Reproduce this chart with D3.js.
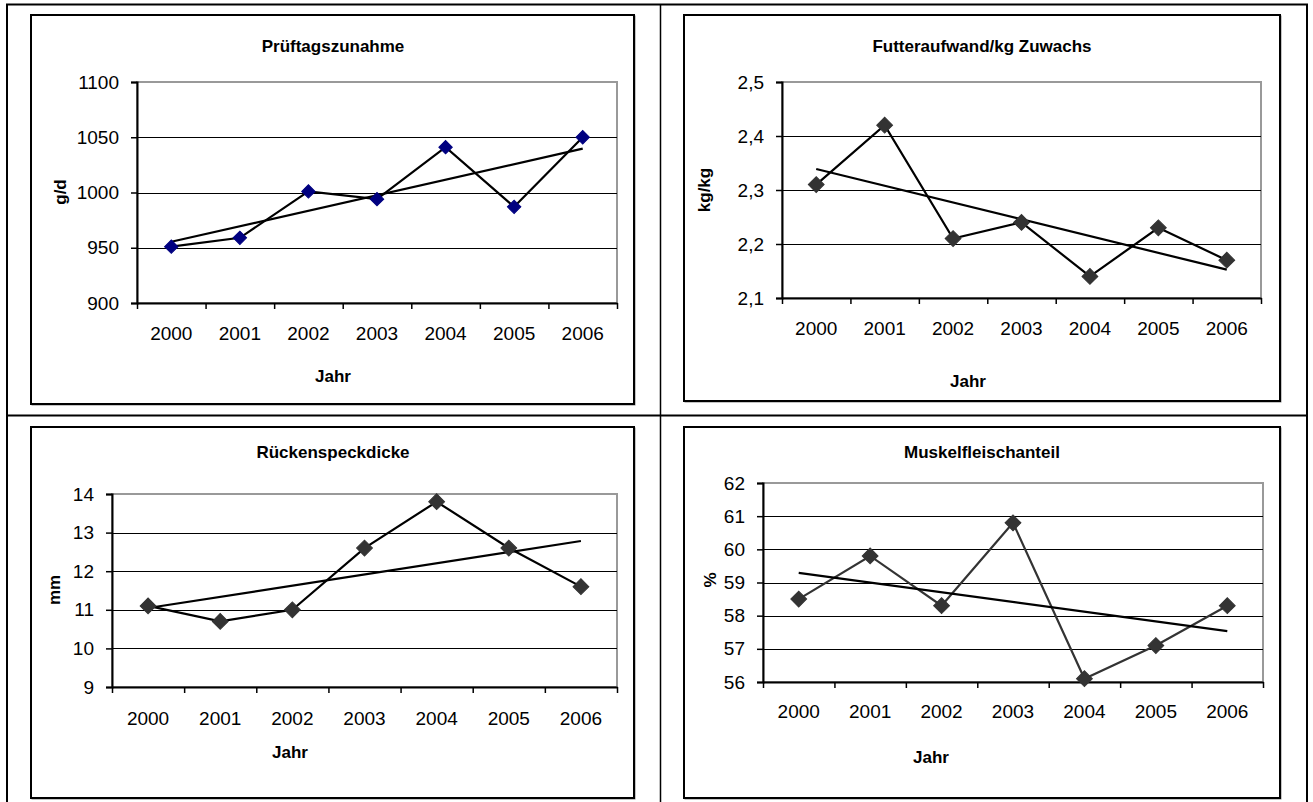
<!DOCTYPE html>
<html><head><meta charset="utf-8">
<script src="https://cdn.jsdelivr.net/npm/d3@7"></script>
<style>html,body{margin:0;padding:0;background:#fff;}svg{display:block;font-family:"Liberation Sans",Arial,sans-serif;}</style>
</head><body>
<svg id="c" width="1313" height="802"></svg>
<script>
// ---- data ----
const years = ["2000","2001","2002","2003","2004","2005","2006"];
const pruefTagsZunahme = [951, 959, 1001, 994, 1041, 987, 1050];
const futterAufwand = [2.31, 2.42, 2.21, 2.24, 2.14, 2.23, 2.17];
const rueckenSpeck = [11.1, 10.7, 11.0, 12.6, 13.8, 12.6, 11.6];
const muskelFleisch = [58.5, 59.8, 58.3, 60.8, 56.1, 57.1, 58.3];
const ticks1 = [900, 950, 1000, 1050, 1100];
const ticks2 = [2.1, 2.2, 2.3, 2.4, 2.5];
const ticks3 = [9, 10, 11, 12, 13, 14];
const ticks4 = [56, 57, 58, 59, 60, 61, 62];
const titles = ["Prüftagszunahme", "Futteraufwand/kg Zuwachs", "Rückenspeckdicke", "Muskelfleischanteil"];
const yTitles = ["g/d", "kg/kg", "mm", "%"];
const xTitle = "Jahr";

const de = d3.formatLocale({decimal: ",", thousands: ".", grouping: [3], currency: ["", " €"]});
const fmtInt = d3.format("d");
const fmtDec = de.format(".1f");

const charts = [
  {values: pruefTagsZunahme, ticks: ticks1, fmt: fmtInt, title: titles[0], ytitle: yTitles[0],
   box: [31, 15, 634, 404], plot: [137, 82, 617, 303], titleXY: [333, 52], yTitleXY: [66, 192],
   xLabY: 340, xTitleXY: [333, 382], marker: "#000080", mSize: 90, line: "#000"},
  {values: futterAufwand, ticks: ticks2, fmt: fmtDec, title: titles[1], ytitle: yTitles[1],
   box: [684, 15, 1280, 401], plot: [782, 82, 1261, 298], titleXY: [982, 52], yTitleXY: [710, 190],
   xLabY: 335, xTitleXY: [968, 387], marker: "#333333", mSize: 125, line: "#000"},
  {values: rueckenSpeck, ticks: ticks3, fmt: fmtInt, title: titles[2], ytitle: yTitles[2],
   box: [31, 427, 634, 798], plot: [112, 494, 617, 687], titleXY: [333, 458], yTitleXY: [60, 590],
   xLabY: 725, xTitleXY: [290, 758], marker: "#333333", mSize: 125, line: "#000"},
  {values: muskelFleisch, ticks: ticks4, fmt: fmtInt, title: titles[3], ytitle: yTitles[3],
   box: [684, 427, 1280, 798], plot: [763, 483, 1263, 682], titleXY: [982, 458], yTitleXY: [716, 580],
   xLabY: 718, xTitleXY: [931, 763], marker: "#333333", mSize: 125, line: "#333"}
];

const svg = d3.select("#c");

// outer table
const tbl = svg.append("g").attr("stroke", "#000").attr("fill", "none");
tbl.append("line").attr("x1", 7).attr("x2", 7).attr("y1", 4).attr("y2", 802).attr("stroke-width", 2);
tbl.append("line").attr("x1", 1307).attr("x2", 1307).attr("y1", 4).attr("y2", 802).attr("stroke-width", 2);
tbl.append("line").attr("x1", 6).attr("x2", 1308).attr("y1", 4.5).attr("y2", 4.5).attr("stroke-width", 2);
tbl.append("line").attr("x1", 6).attr("x2", 1308).attr("y1", 415.5).attr("y2", 415.5).attr("stroke-width", 2);
tbl.append("line").attr("x1", 660.5).attr("x2", 660.5).attr("y1", 4).attr("y2", 802).attr("stroke-width", 1.5);

function linReg(vals) {
  const n = vals.length, xs = d3.range(n);
  const mx = d3.mean(xs), my = d3.mean(vals);
  const b = d3.sum(xs, (x, i) => (x - mx) * (vals[i] - my)) / d3.sum(xs, x => (x - mx) * (x - mx));
  return [my - b * mx, b];
}

charts.forEach(c => {
  const g = svg.append("g");
  const [bx0, by0, bx1, by1] = c.box;
  // chart frame
  g.append("rect").attr("x", bx0 + 1).attr("y", by0 + 1).attr("width", bx1 - bx0).attr("height", by1 - by0)
    .attr("fill", "none").attr("stroke", "#888").attr("stroke-width", 1);
  g.append("rect").attr("x", bx0).attr("y", by0).attr("width", bx1 - bx0).attr("height", by1 - by0)
    .attr("fill", "#fff").attr("stroke", "#000").attr("stroke-width", 2);

  const [px0, py0, px1, py1] = c.plot;
  const x = d3.scaleBand().domain(years).range([px0, px1]);
  const xi = d3.scaleLinear().domain([0, years.length]).range([px0, px1]);
  const y = d3.scaleLinear().domain(d3.extent(c.ticks)).range([py1, py0]);

  // plot area border (gray)
  g.append("rect").attr("x", px0).attr("y", py0).attr("width", px1 - px0).attr("height", py1 - py0)
    .attr("fill", "#fff").attr("stroke", "#999").attr("stroke-width", 2);

  // gridlines
  g.append("g").selectAll("line").data(c.ticks.slice(1, -1)).join("line")
    .attr("x1", px0).attr("x2", px1).attr("y1", d => Math.round(y(d)) + 0.5).attr("y2", d => Math.round(y(d)) + 0.5)
    .attr("stroke", "#000").attr("stroke-width", 1);

  // y axis
  const ya = g.append("g").attr("transform", `translate(${px0},0)`)
    .call(d3.axisLeft(y).tickValues(c.ticks).tickFormat(c.fmt).tickSize(6).tickPadding(12));
  ya.select(".domain").attr("stroke", "#000").attr("stroke-width", 2);
  ya.selectAll(".tick line").attr("stroke", "#000").attr("stroke-width", 1.5);
  ya.selectAll("text").attr("font-size", 19).attr("fill", "#000")
    .attr("font-family", '"Liberation Sans",Arial,sans-serif');

  // x axis: ticks at category boundaries
  const xa = g.append("g").attr("transform", `translate(0,${py1})`)
    .call(d3.axisBottom(xi).tickValues(d3.range(years.length + 1)).tickFormat("").tickSize(6).tickSizeOuter(0));
  xa.select(".domain").attr("stroke", "#000").attr("stroke-width", 2);
  xa.selectAll(".tick line").attr("stroke", "#000").attr("stroke-width", 1.5);
  g.append("g").selectAll("text").data(years).join("text")
    .attr("x", d => x(d) + x.bandwidth() / 2).attr("y", c.xLabY)
    .attr("text-anchor", "middle").attr("font-size", 19).attr("fill", "#000").text(d => d);

  // titles
  g.append("text").attr("x", c.titleXY[0]).attr("y", c.titleXY[1]).attr("text-anchor", "middle")
    .attr("font-size", 17).attr("font-weight", "bold").text(c.title);
  g.append("text").attr("transform", `translate(${c.yTitleXY[0]},${c.yTitleXY[1]}) rotate(-90)`)
    .attr("text-anchor", "middle").attr("font-size", 17).attr("font-weight", "bold").text(c.ytitle);
  g.append("text").attr("x", c.xTitleXY[0]).attr("y", c.xTitleXY[1]).attr("text-anchor", "middle")
    .attr("font-size", 17).attr("font-weight", "bold").text(xTitle);

  // data line
  const cx = (d, i) => x(years[i]) + x.bandwidth() / 2;
  const line = d3.line().x(cx).y(d => y(d));
  g.append("path").datum(c.values).attr("d", line).attr("fill", "none")
    .attr("stroke", c.line).attr("stroke-width", 2.2).attr("stroke-linejoin", "miter");

  // trend line (linear fit)
  const [a, b] = linReg(c.values);
  const ends = [0, c.values.length - 1];
  g.append("line")
    .attr("x1", x(years[ends[0]]) + x.bandwidth() / 2).attr("y1", y(a + b * ends[0]))
    .attr("x2", x(years[ends[1]]) + x.bandwidth() / 2).attr("y2", y(a + b * ends[1]))
    .attr("stroke", "#000").attr("stroke-width", 2.2);

  // markers (diamonds)
  g.append("g").selectAll("path").data(c.values).join("path")
    .attr("transform", (d, i) => `translate(${cx(d, i)},${y(d)}) rotate(45)`)
    .attr("d", d3.symbol().type(d3.symbolSquare).size(c.mSize)())
    .attr("fill", c.marker).attr("stroke", c.marker).attr("stroke-width", 1);
});
</script>
</body></html>
